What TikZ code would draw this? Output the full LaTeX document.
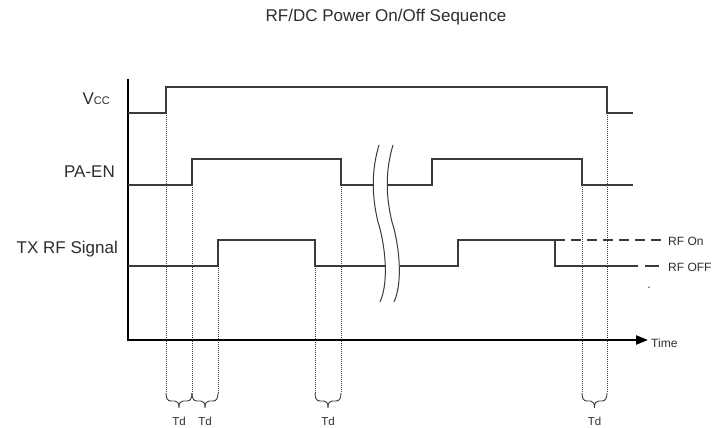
\documentclass[tikz,border=0pt]{standalone}
\usepackage{fontspec}
\setmainfont{Liberation Sans}
\usetikzlibrary{arrows.meta}
\definecolor{sig}{HTML}{3A3A3A}
\definecolor{txt}{HTML}{2E2E2E}
\tikzset{
  x=1pt, y=-1pt,
  signal/.style={draw=sig, line width=1.3pt, line join=miter},
  axisline/.style={draw=black, line width=2.2pt},
  guide/.style={draw=sig, line width=1pt, dash pattern=on 1pt off 1pt},
  bracepath/.style={draw=sig, line width=0.9pt},
  breakmark/.style={draw=sig, line width=1pt},
  rfdash/.style={draw=sig, line width=1.3pt, dash pattern=on 10pt off 6pt},
  lbl/.style={text=txt, inner sep=0pt, font=\fontsize{17}{20}\selectfont},
  small/.style={text=txt, inner sep=0pt, font=\fontsize{12}{14}\selectfont},
  tdlbl/.style={text=txt, inner sep=0pt, font=\fontsize{11.5}{13}\selectfont, anchor=base},
}
\begin{document}
\begin{tikzpicture}
\useasboundingbox (0,0) rectangle (712,428);
\fill[white] (0,0) rectangle (712,428);

% title
\node[lbl, anchor=base] (title) at (386,22) {RF/DC Power On/Off Sequence};

% axes
\coordinate (ytop) at (128,80);
\coordinate (orig) at (128,340);
\coordinate (xend) at (648,340);
\draw[axisline, line cap=rect, -{Triangle[length=12pt,width=9pt]}] (ytop) -- (orig) -- (xend);
\node[small, anchor=base west] (time) at (651,347) {Time};

% signal labels
\node[lbl, anchor=base east] (vcc) at (110,104) {V\fontsize{11}{12}\selectfont CC};
\node[lbl, anchor=base east] (paen) at (115,177) {PA-EN};
\node[lbl, anchor=base east] (txrf) at (118,253) {TX RF Signal};

% VCC
\draw[signal] (128,113) -- (166,113) -- (166,87) -- (607,87) -- (607,113) -- (633,113);

% PA-EN
\draw[signal] (128,185) -- (192,185) -- (192,159) -- (341,159) -- (341,185) -- (373,185);
\draw[signal] (387,185) -- (432,185) -- (432,159) -- (582,159) -- (582,185) -- (633,185);

% TX RF
\draw[signal] (128,266) -- (218,266) -- (218,240) -- (315,240) -- (315,266) -- (386,266);
\draw[signal] (400,266) -- (458,266) -- (458,240) -- (555,240) -- (555,266) -- (638,266);
\draw[rfdash] (555,240) -- (666,240);
\draw[signal] (645,266) -- (659,266);
\node[small, anchor=base west] (rfon) at (668,245) {RF On};
\node[small, anchor=base west] (rfoff) at (668,271) {RF OFF};
\node[small, anchor=base] (dot) at (649,288) {.};

% break marks
\foreach \dx in {0,14} {
  \draw[breakmark] (379+\dx,145) .. controls (371.5+\dx,170) and (371.5+\dx,195) .. (378+\dx,222)
                   .. controls (384+\dx,240) and (390+\dx,280) .. (380+\dx,302);
}

% guide lines
\foreach \gx/\gy in {166/113, 192/185, 218/266, 315/266, 341/185, 582/185, 607/113} {
  \draw[guide] (\gx,\gy) -- (\gx,393);
}

% braces
\foreach \xa/\xb in {166/192, 192/218, 315/341, 582/607} {
  \pgfmathsetmacro{\m}{(\xa+\xb)/2}
  \draw[bracepath] (\xa,393) .. controls (\xa,399) and (\xa+2,401) .. (\xa+5,401)
     -- (\m-4,401) .. controls (\m-1.5,401) and (\m,403) .. (\m,408)
     .. controls (\m,403) and (\m+1.5,401) .. (\m+4,401)
     -- (\xb-5,401) .. controls (\xb-2,401) and (\xb,399) .. (\xb,393);
}
\node[tdlbl] (td1) at (179,425) {Td};
\node[tdlbl] (td2) at (205,425) {Td};
\node[tdlbl] (td3) at (328,425) {Td};
\node[tdlbl] (td4) at (594.5,425) {Td};
\end{tikzpicture}
\end{document}
